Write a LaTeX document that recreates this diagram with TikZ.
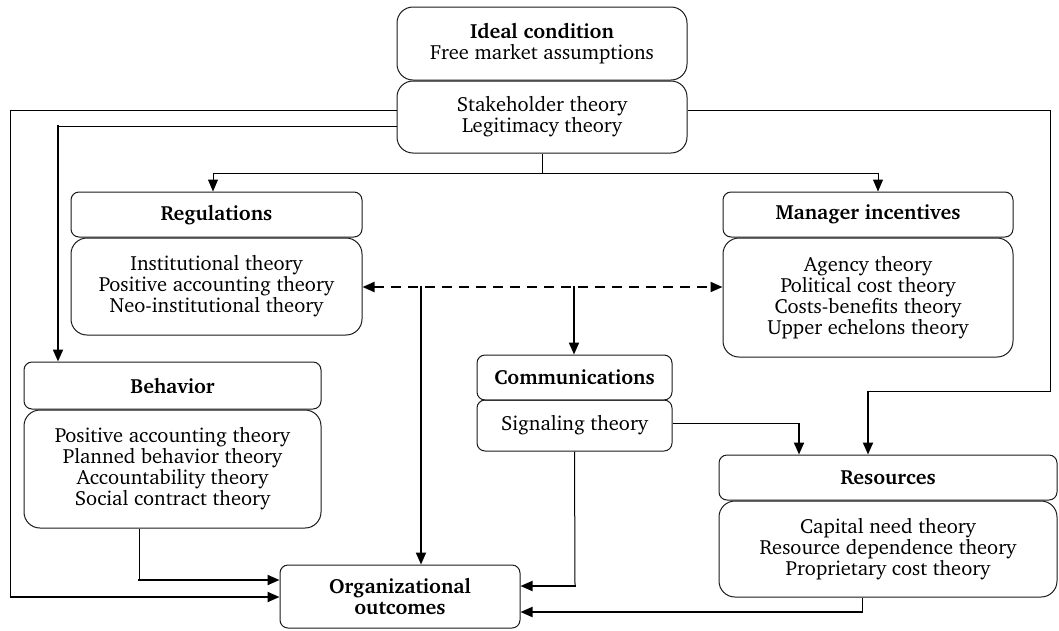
\documentclass[tikz,border=0pt]{standalone}
\usepackage[T1]{fontenc}
\usepackage{charter}
\usetikzlibrary{arrows.meta,calc}
\newcommand{\fs}{\fontsize{20.5}{21}\selectfont}
\tikzset{
 bx/.style={draw=black!90, line width=1pt, inner sep=0pt, align=center, font=\fs},
 hdr/.style={bx, rounded corners=8pt, font=\fs\bfseries},
 bodyb/.style={bx, rounded corners=16pt},
 ln/.style={line width=1pt},
 tk/.style={line width=2pt},
 arr/.style={tk, -{Triangle[length=12pt,width=10pt]}},
 tarr/.style={ln, -{Triangle[length=12pt,width=10pt]}},
 darr/.style={tk, dash pattern=on 10pt off 7pt, {Triangle[length=12pt,width=10pt]}-{Triangle[length=12pt,width=10pt]}},
}
\newcommand{\mkbox}[7]{\node[#6, minimum width={(#4)-(#2)}, minimum height={(#5)-(#3)}] (#1) at ({((#2)+(#4))/2},{((#3)+(#5))/2}) {#7};}
\begin{document}
\begin{tikzpicture}[x=1pt,y=-1pt]
\useasboundingbox (0,0) rectangle (1059,630);
% boxes
\mkbox{ideal}{397}{7}{687}{80}{bodyb}{\textbf{Ideal condition}\\Free market assumptions}
\mkbox{stake}{397}{81}{687}{153}{bodyb}{Stakeholder theory\\Legitimacy theory}
\mkbox{regh}{71}{192}{362}{237}{hdr}{Regulations}
\mkbox{regb}{71}{238}{362}{335}{bodyb}{Institutional theory\\Positive accounting theory\\Neo-institutional theory}
\mkbox{mgrh}{723}{192}{1013}{237}{hdr}{Manager incentives}
\mkbox{mgrb}{723}{238}{1013}{357}{bodyb}{Agency theory\\Political cost theory\\Costs-benefits theory\\Upper echelons theory}
\mkbox{behh}{24}{362}{321}{409}{hdr}{Behavior}
\mkbox{behb}{24}{410}{321}{528}{bodyb}{Positive accounting theory\\Planned behavior theory\\Accountability theory\\Social contract theory}
\mkbox{comh}{477}{355}{672}{400}{hdr}{Communications}
\mkbox{sig}{477}{400}{672}{451}{hdr}{\mdseries Signaling theory}
\mkbox{resh}{719}{455}{1057}{500}{hdr}{Resources}
\mkbox{resb}{719}{501}{1057}{597}{bodyb}{Capital need theory\\Resource dependence theory\\Proprietary cost theory}
\mkbox{org}{280}{565}{520}{628}{hdr}{Organizational\\outcomes}
% connectors
\draw[ln] (stake.south) -- (542,173);
\draw[ln] (213,173) -- (878,173);
\draw[tarr] (213,173) -- (regh.north -| 213,0);
\draw[tarr] (878,173) -- (mgrh.north -| 878,0);
% left outer
\draw[ln] (stake.west |- 0,110) -- (10,110) -- (10,597);
\draw[arr] (9.5,597) -- (org.west |- 0,597);
% left inner
\draw[ln] (stake.west |- 0,126) -- (58,126);
\draw[arr] (58,125) -- (behh.north -| 58,0);
% right
\draw[ln] (stake.east |- 0,110) -- (1050,110) -- (1050,391) -- (868,391);
\draw[arr] (868,390.5) -- (resh.north -| 868,0);
% signaling to resources
\draw[ln] (sig.east |- 0,423) -- (799,423);
\draw[arr] (799,422.5) -- (resh.north -| 799,0);
% signaling to org
\draw[ln] (sig.south) -- (575,586);
\draw[arr] (576,586) -- (org.east |- 0,586);
% resources to org
\draw[ln] (resb.south -| 862,0) -- (862,612);
\draw[arr] (863,612) -- (org.east |- 0,612);
% behavior to org
\draw[ln] (behb.south -| 139,0) -- (139,580);
\draw[arr] (138,580) -- (org.west |- 0,580);
% dashed
\draw[darr] (regb.east |- 0,287) -- (mgrb.west |- 0,287);
\draw[arr] (421,286) -- (org.north -| 421,0);
\draw[arr] (574,286) -- (comh.north -| 574,0);
\end{tikzpicture}
\end{document}
